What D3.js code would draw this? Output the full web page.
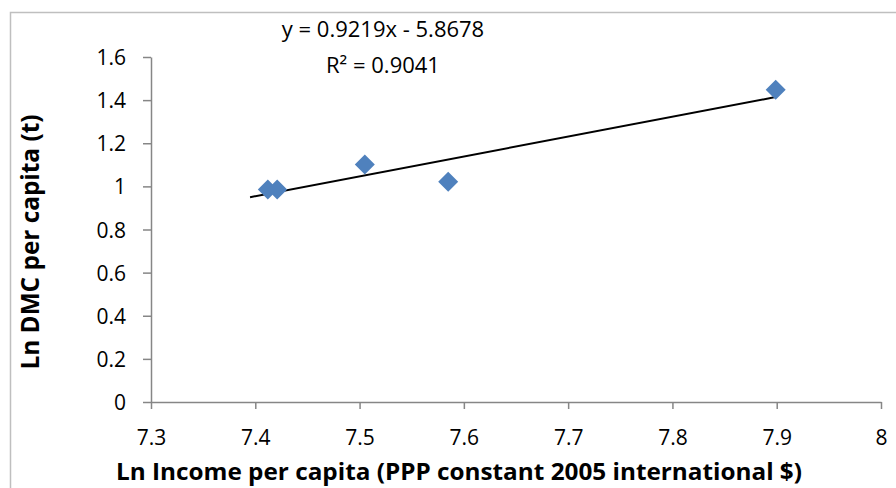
<!DOCTYPE html>
<html><head><meta charset="utf-8">
<script src="https://cdn.jsdelivr.net/npm/d3@7"></script>
<style>body{margin:0;background:#fff}svg{display:block}</style>
</head><body><svg id="c" width="896" height="488"></svg>
<script>
const xValues = [7.412, 7.421, 7.505, 7.585, 7.899];
const yValues = [0.985, 0.985, 1.102, 1.022, 1.448];
const xTicks = [7.3, 7.4, 7.5, 7.6, 7.7, 7.8, 7.9, 8];
const yTicks = [0, 0.2, 0.4, 0.6, 0.8, 1, 1.2, 1.4, 1.6];
const slope = 0.9219, intercept = -5.8678;
const trendRange = [7.395, 7.9];
const eqText = ["y = 0.9219x - 5.8678", "R² = 0.9041"];
const xTitle = "Ln Income per capita (PPP constant 2005 international $)";
const yTitle = "Ln DMC per capita (t)";

const svg = d3.select("#c");
const font = "'Open Sans', sans-serif";
svg.append("rect").attr("x",10.5).attr("y",12.5).attr("width",890).attr("height",480)
  .attr("fill","#fff").attr("stroke","#bfbfbf").attr("stroke-width",1.5);

const x = d3.scaleLinear().domain([7.3, 8]).range([151, 881]);
const y = d3.scaleLinear().domain([0, 1.6]).range([402, 57]);

const xAxis = svg.append("g").attr("transform","translate(0,402)")
  .call(d3.axisBottom(x).tickValues(xTicks).tickSize(7).tickSizeOuter(0).tickPadding(6)
    .tickFormat(d => String(+d.toFixed(1))));
const yAxis = svg.append("g").attr("transform","translate(151,0)")
  .call(d3.axisLeft(y).tickValues(yTicks).tickSize(8).tickSizeOuter(0).tickPadding(17)
    .tickFormat(d => String(+d.toFixed(1))));
[xAxis, yAxis].forEach(g => {
  g.selectAll("path,line").attr("stroke","#868686").attr("stroke-width",1.5);
  g.selectAll("text").attr("fill","#000").style("font-family",font).style("font-size","21px");
});
xAxis.selectAll("text").attr("y",43).attr("dy",null);
yAxis.selectAll("text").attr("dy","0.36em");

svg.append("line")
  .attr("x1", x(trendRange[0])).attr("y1", y(slope*trendRange[0]+intercept))
  .attr("x2", x(trendRange[1])).attr("y2", y(slope*trendRange[1]+intercept))
  .attr("stroke","#000").attr("stroke-width",2);

const sym = d3.symbol().type(d3.symbolSquare).size(200);
svg.append("g").selectAll("path").data(xValues.map((v,i)=>[v,yValues[i]])).join("path")
  .attr("d", sym)
  .attr("transform", d => `translate(${x(d[0])},${y(d[1])}) rotate(45)`)
  .attr("fill","#4f81bd");

svg.append("g").selectAll("text").data(eqText).join("text")
  .attr("x",383).attr("y",(d,i)=>37+i*36).attr("text-anchor","middle")
  .style("font-family",font).style("font-size","22px").text(d=>d);

svg.append("text").attr("x",459).attr("y",480).attr("text-anchor","middle")
  .attr("textLength",686).attr("lengthAdjust","spacingAndGlyphs")
  .style("font-family",font).style("font-size","24px").style("font-weight","bold").text(xTitle);
svg.append("text").attr("transform","translate(39,242) rotate(-90)").attr("text-anchor","middle")
  .attr("textLength",255).attr("lengthAdjust","spacingAndGlyphs")
  .style("font-family",font).style("font-size","25px").style("font-weight","bold").text(yTitle);
</script></body></html>
